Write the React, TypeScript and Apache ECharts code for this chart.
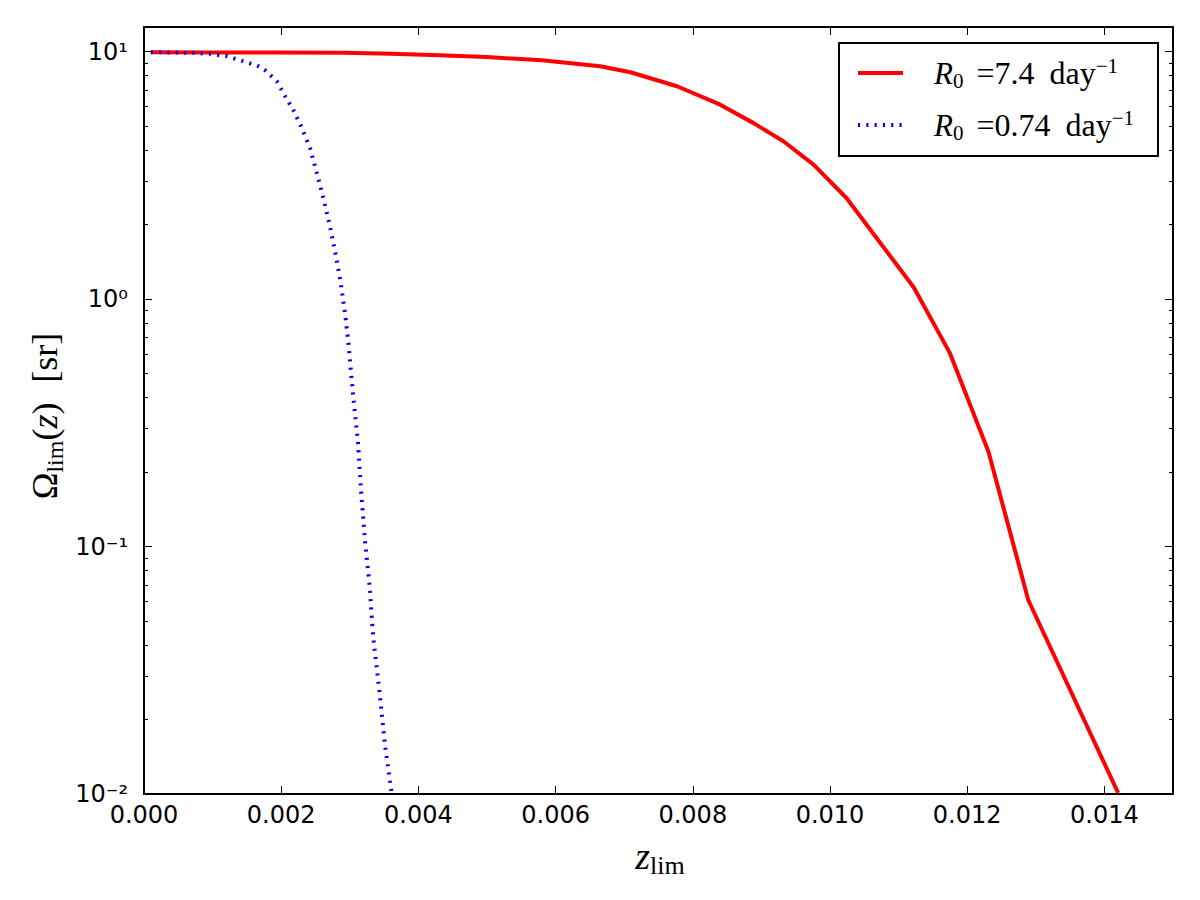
import React, { useEffect, useRef } from 'react';
import * as echarts from 'echarts';

// ---- data ----
const xTickValues = [0, 0.002, 0.004, 0.006, 0.008, 0.01, 0.012, 0.014];
const yDecades = [-2, -1, 0, 1]; // log10 of 10^-2 .. 10^1
const Y_MIN = 0.01;
const Y_MAX = 4 * Math.PI;

const redName = 'R0 =7.4 day^-1';
const redX = [0.0001, 0.001, 0.002, 0.0029, 0.0036, 0.0043, 0.005, 0.0058, 0.00665, 0.00709, 0.00777, 0.0084, 0.00888, 0.00932, 0.00976, 0.01024, 0.01122, 0.01175, 0.01231, 0.01289, 0.0142];
const redY = [9.93, 9.92, 9.91, 9.88, 9.8, 9.66, 9.5, 9.22, 8.72, 8.25, 7.24, 6.1, 5.15, 4.34, 3.49, 2.56, 1.116, 0.603, 0.2416, 0.0608, 0.0101];

const blueName = 'R0 =0.74 day^-1';
const blueX = [0.0001, 0.0004, 0.00072, 0.00096, 0.00121, 0.00145, 0.00167, 0.001765, 0.001936, 0.002057, 0.002178, 0.00229, 0.00242, 0.00252, 0.00262, 0.00271, 0.00279, 0.00286, 0.00293, 0.00298, 0.00305, 0.00312, 0.00316, 0.00322, 0.00329, 0.00334, 0.00343, 0.00351, 0.00361];
const blueY = [9.93, 9.92, 9.88, 9.79, 9.57, 9.14, 8.72, 8.4, 7.59, 6.6, 5.79, 4.99, 4.08, 3.23, 2.52, 1.97, 1.53, 1.2, 0.877, 0.664, 0.404, 0.262, 0.175, 0.106, 0.0689, 0.0432, 0.0263, 0.016, 0.0101];

const redLegendText = '{i|R}{sub|0}{g1|}{n|=7.4}{g2|}{n|day}{sup|−1}';
const blueLegendText = '{i|R}{sub|0}{g1|}{n|=0.74}{g2|}{n|day}{sup|−1}';

const SERIF = '"Liberation Serif", "DejaVu Serif", serif';
const SANS = '"DejaVu Sans", sans-serif';

const SUP: Record<string, string> = { '0': '⁰', '1': '¹', '2': '²', '-': '⁻' };
const supText = (n: number) => String(n).split('').map((c) => SUP[c] || c).join('');

const RED = '#ff0000';
const BLUE = '#0000ff';
const BLUE_DASH = [2.1, 6.2];

export default function App() {
  const ref = useRef<HTMLDivElement>(null);

  useEffect(() => {
    if (!ref.current) return;
    const chart = echarts.init(ref.current, undefined, { renderer: 'svg' });

    const logMin = Math.log10(Y_MIN);
    const logMax = Math.log10(Y_MAX);
    const minorTicks: number[] = [];
    for (let n = -2; n <= 1; n++) {
      for (let k = 2; k <= 9; k++) {
        const v = Math.log10(k * Math.pow(10, n));
        if (v < logMax) minorTicks.push(v);
      }
    }
    const toPairs = (xs: number[], ys: number[]) => xs.map((x, i) => [x, Math.log10(ys[i])]);

    const frameLine = { show: true, onZero: false, lineStyle: { color: '#000', width: 2 } };
    const tickStyle = { color: '#000', width: 1 };

    const yBase = {
      type: 'value',
      min: logMin,
      max: logMax,
      splitLine: { show: false },
    };
    const xBase = {
      type: 'value',
      min: 0,
      max: 0.015,
      splitLine: { show: false },
    };

    const legendRich = {
      i: { fontFamily: SERIF, fontStyle: 'italic', fontSize: 31, lineHeight: 36, fill: '#000', verticalAlign: 'middle' },
      sub: { fontFamily: SERIF, fontSize: 21, lineHeight: 36, fill: '#000', verticalAlign: 'bottom' },
      n: { fontFamily: SERIF, fontSize: 32, lineHeight: 36, fill: '#000', verticalAlign: 'middle' },
      sup: { fontFamily: SERIF, fontSize: 21, lineHeight: 36, fill: '#000', verticalAlign: 'top' },
      g1: { width: 13, lineHeight: 36 },
      g2: { width: 15, lineHeight: 36 },
    };

    const option: any = {
      animation: false,
      backgroundColor: '#ffffff',
      grid: { left: 144, right: 27, top: 27, bottom: 106, containLabel: false, outerBoundsMode: 'none' },
      xAxis: [
        {
          ...xBase, position: 'bottom',
          axisLine: frameLine,
          axisTick: { show: true, inside: true, length: 8, customValues: xTickValues, lineStyle: tickStyle },
          axisLabel: {
            show: true, customValues: xTickValues, margin: 9, lineHeight: 24,
            formatter: (v: number) => v.toFixed(3),
            fontFamily: SANS, fontSize: 24, color: '#000',
          },
        },
        {
          ...xBase, position: 'top',
          axisLine: frameLine,
          axisTick: { show: true, inside: true, length: 8, customValues: xTickValues, lineStyle: tickStyle },
          axisLabel: { show: false },
        },
      ],
      yAxis: [
        {
          ...yBase, position: 'left',
          axisLine: frameLine,
          axisTick: { show: true, inside: true, length: 8, customValues: yDecades, lineStyle: tickStyle },
          axisLabel: {
            show: true, customValues: yDecades, margin: 16, lineHeight: 18,
            formatter: (v: number) => '10' + supText(Math.round(v)),
            fontFamily: SANS, fontSize: 24, color: '#000',
          },
        },
        {
          ...yBase, position: 'left',
          axisLine: { show: false, onZero: false },
          axisTick: { show: true, inside: true, length: 4, customValues: minorTicks, lineStyle: tickStyle },
          axisLabel: { show: false },
        },
        {
          ...yBase, position: 'right',
          axisLine: frameLine,
          axisTick: { show: true, inside: true, length: 8, customValues: yDecades, lineStyle: tickStyle },
          axisLabel: { show: false },
        },
        {
          ...yBase, position: 'right',
          axisLine: { show: false, onZero: false },
          axisTick: { show: true, inside: true, length: 4, customValues: minorTicks, lineStyle: tickStyle },
          axisLabel: { show: false },
        },
      ],
      series: [
        {
          name: redName,
          type: 'line',
          xAxisIndex: 0,
          yAxisIndex: 0,
          data: toPairs(redX, redY),
          symbol: 'none',
          showSymbol: false,
          clip: true,
          lineStyle: { color: RED, width: 4, type: 'solid' },
          itemStyle: { color: RED },
        },
        {
          name: blueName,
          type: 'line',
          xAxisIndex: 0,
          yAxisIndex: 0,
          data: toPairs(blueX, blueY),
          symbol: 'none',
          showSymbol: false,
          clip: true,
          lineStyle: { color: BLUE, width: 4, type: BLUE_DASH, cap: 'butt' },
          itemStyle: { color: BLUE },
        },
      ],
      graphic: [
        // legend box
        {
          type: 'group',
          left: 838,
          top: 42,
          children: [
            {
              type: 'rect',
              shape: { x: 0, y: 0, width: 319, height: 113 },
              style: { fill: '#ffffff', stroke: '#000', lineWidth: 2 },
            },
            {
              type: 'line',
              shape: { x1: 19, y1: 30, x2: 64, y2: 30 },
              style: { stroke: RED, lineWidth: 4 },
            },
            {
              type: 'text',
              x: 95,
              y: 30,
              style: { text: redLegendText, align: 'left', verticalAlign: 'middle', rich: legendRich },
            },
            {
              type: 'line',
              shape: { x1: 19, y1: 82, x2: 64, y2: 82 },
              style: { stroke: BLUE, lineWidth: 4, lineDash: BLUE_DASH, lineCap: 'butt' },
            },
            {
              type: 'text',
              x: 95,
              y: 82,
              style: { text: blueLegendText, align: 'left', verticalAlign: 'middle', rich: legendRich },
            },
          ],
        },
        // x axis title
        {
          type: 'text',
          x: 660,
          y: 856,
          style: {
            text: '{i|z}{sub|lim}',
            align: 'center',
            verticalAlign: 'middle',
            rich: {
              i: { fontFamily: SERIF, fontStyle: 'italic', fontSize: 38, lineHeight: 44, fill: '#000', verticalAlign: 'middle' },
              sub: { fontFamily: SERIF, fontSize: 26, lineHeight: 44, fill: '#000', verticalAlign: 'bottom' },
            },
          },
        },
        // y axis title
        {
          type: 'text',
          x: 45,
          y: 416,
          rotation: Math.PI / 2,
          style: {
            text: '{o|Ω}{sub|lim}{o|(}{i|z}{o|)}{g|}{o|[sr]}',
            align: 'center',
            verticalAlign: 'middle',
            rich: {
              o: { fontFamily: SERIF, fontSize: 36, lineHeight: 44, fill: '#000', verticalAlign: 'middle' },
              i: { fontFamily: SERIF, fontStyle: 'italic', fontSize: 36, lineHeight: 44, fill: '#000', verticalAlign: 'middle' },
              sub: { fontFamily: SERIF, fontSize: 24, lineHeight: 44, fill: '#000', verticalAlign: 'bottom' },
              g: { width: 20, lineHeight: 44 },
            },
          },
        },
      ],
    };

    chart.setOption(option);
    return () => chart.dispose();
  }, []);

  return (
    <div
      ref={ref}
      style={{ position: 'absolute', left: 0, top: 0, width: 1200, height: 900, background: '#fff' }}
    />
  );
}
